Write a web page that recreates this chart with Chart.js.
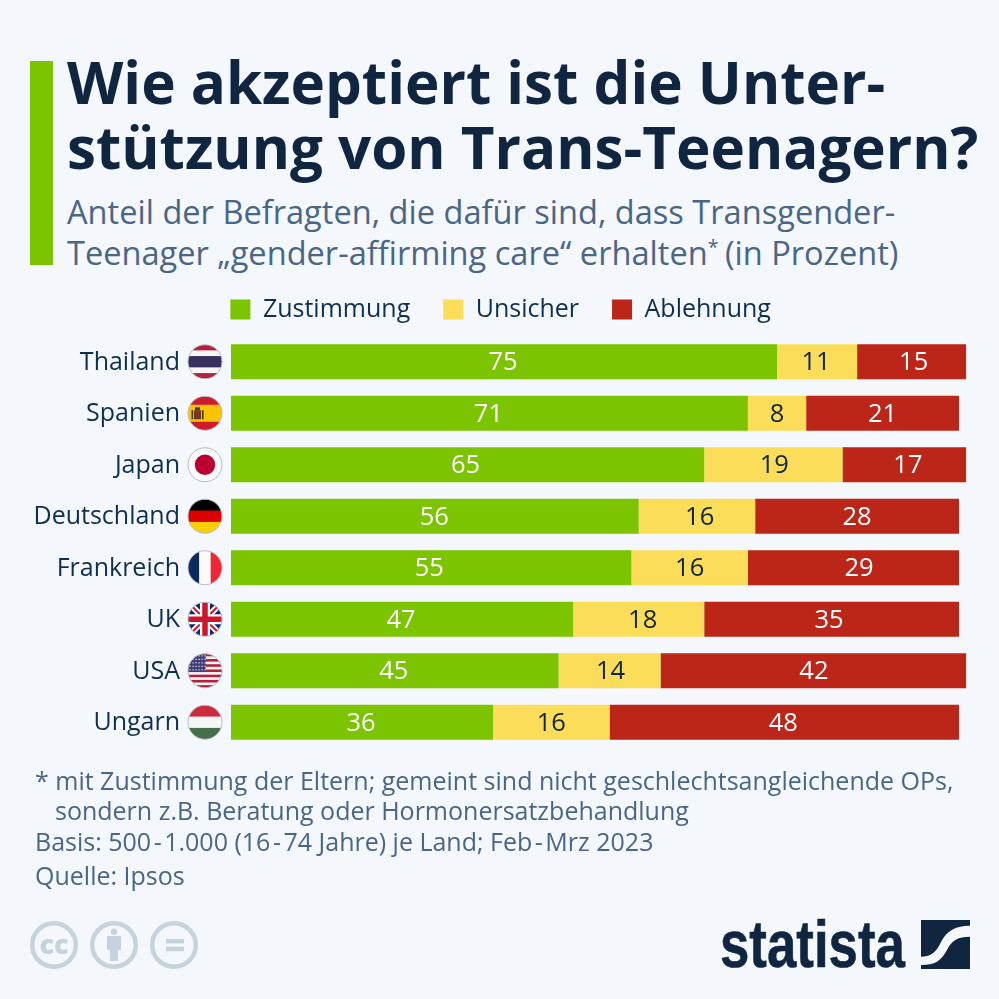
<!DOCTYPE html>
<html lang="de"><head><meta charset="utf-8">
<script src="https://cdn.jsdelivr.net/npm/chart.js@4/dist/chart.umd.min.js"></script>
<style>
html,body{margin:0;padding:0;background:#f4f7fb;width:999px;height:999px;overflow:hidden;font-family:"Open Sans",sans-serif}
canvas{position:absolute;left:0;top:0}
.t{position:absolute;white-space:nowrap;line-height:1}
.title{font-weight:700;font-size:58.3px;color:#0f2540;left:67px}
.sub{font-size:32.6px;color:#4a6686;left:67px}
.foot{font-size:25px;color:#4a6686}
.foot i{font-style:normal;margin:0 2.5px}
sup{font-size:.6em;line-height:0;vertical-align:.55em;margin-right:-2px}
#bar{position:absolute;left:30px;top:61px;width:23px;height:204px;background:#7cc400}
svg{position:absolute}
</style></head><body>
<div id="bar"></div>
<div class="t title" style="top:53px">Wie akzeptiert ist die Unter-</div>
<div class="t title" style="top:118px">stützung von Trans-Teenagern?</div>
<div class="t sub" style="top:196px">Anteil der Befragten, die dafür sind, dass Transgender-</div>
<div class="t sub" style="top:237px">Teenager „gender-affirming care“ erhalten<sup>*</sup> (in Prozent)</div>
<canvas id="c" width="999" height="999"></canvas>
<div class="t foot" style="left:35px;top:768px">* mit Zustimmung der Eltern; gemeint sind nicht geschlechtsangleichende OPs,</div>
<div class="t foot" style="left:55px;top:798px">sondern z.B. Beratung oder Hormonersatzbehandlung</div>
<div class="t foot" style="left:35px;top:829px">Basis: 500<i>-</i>1.000 (16<i>-</i>74 Jahre) je Land; Feb<i>-</i>Mrz 2023</div>
<div class="t foot" style="left:35px;top:863px">Quelle: Ipsos</div>
<svg style="left:0;top:900px" width="240" height="99" viewBox="0 900 240 99">
<g fill="none" stroke="#c6d3dc" stroke-width="4.5"><circle cx="54" cy="945" r="21.8"/><circle cx="114" cy="945" r="21.8"/><circle cx="174" cy="945" r="21.8"/></g>
<text x="54" y="954" text-anchor="middle" font-family="Open Sans" font-weight="800" font-size="27" fill="#c6d3dc">cc</text>
<g fill="#c6d3dc"><circle cx="114" cy="931.7" r="3.2"/><rect x="107" y="936" width="14" height="14"/><rect x="110" y="936" width="8" height="25"/><rect x="166" y="939" width="18" height="4.5"/><rect x="166" y="946.7" width="18" height="4.5"/></g>
</svg>
<div class="t" style="left:720px;top:911px;font-family:'Liberation Sans';font-weight:700;font-size:66px;color:#0f2540;transform-origin:0 0;transform:scaleX(.8);-webkit-text-stroke:.6px #0f2540">statista</div>
<svg style="left:920.7px;top:920px" width="49" height="49" viewBox="0 0 49 49"><rect width="49" height="49" fill="#0f2540"/><path d="M49 5.7 C36 5.5 26 10 20 22 C15 33 9 36.7 0 36.7 L0 45 C14 45 20 41 26 30 C31 20 37 16.7 49 16.7 Z" fill="#f4f7fb"/></svg>
<script>
const categories=["Thailand","Spanien","Japan","Deutschland","Frankreich","UK","USA","Ungarn"];
const seriesNames=["Zustimmung","Unsicher","Ablehnung"];
const zustimmung=[75,71,65,56,55,47,45,36];
const unsicher=[11,8,19,16,16,18,14,16];
const ablehnung=[15,21,17,28,29,35,42,48];
const seriesColors=["#7cc400","#fbdd5a","#bb2618"];
const labelColors=["#ffffff","#0f2540","#ffffff"];
const ink="#0f2f50";
// the reference's value labels sit slightly off the exact segment centres
const labelShift=[[-1,-1,-2,-.5,-2,-1,-1,-1],[-1,0,1,2.7,0,4,1,0],[2,0,3.5,0,5.5,-2.5,.5,-1]];

function circleFlag(ctx,cx,cy,r,paint){
  ctx.save();ctx.beginPath();ctx.arc(cx,cy,r,0,Math.PI*2);ctx.clip();
  paint(ctx,cx-r,cy-r,2*r);ctx.restore();
  ctx.beginPath();ctx.arc(cx,cy,r,0,Math.PI*2);ctx.strokeStyle="#b5bcc4";ctx.lineWidth=1;ctx.stroke();
}
function hBands(ctx,x,y,s,bands){let tot=bands.reduce((a,b)=>a+b[1],0),yy=y;bands.forEach(b=>{const h=s*b[1]/tot;ctx.fillStyle=b[0];ctx.fillRect(x,yy,s,h+0.5);yy+=h;});}
const flags={
 Thailand:(c,x,y,s)=>hBands(c,x,y,s,[["#b5203c",1],["#f6f6f6",1],["#37305e",2],["#f6f6f6",1],["#b5203c",1]]),
 Spanien:(c,x,y,s)=>{hBands(c,x,y,s,[["#cf1b2b",1],["#f8c300",2],["#cf1b2b",1]]);
   c.fillStyle="#6e3a1c";c.fillRect(x+6,y+14,7,9);c.fillStyle="#a5261c";c.fillRect(x+7,y+15,3,4);c.fillStyle="#4a3a18";c.fillRect(x+7,y+11,5,3);c.fillRect(x+3.5,y+14,1.6,9);c.fillRect(x+14,y+14,1.6,9);},
 Japan:(c,x,y,s)=>{c.fillStyle="#fbfbfb";c.fillRect(x,y,s,s);c.fillStyle="#bc0032";c.beginPath();c.arc(x+s/2,y+s/2,s*0.3,0,7);c.fill();},
 Deutschland:(c,x,y,s)=>hBands(c,x,y,s,[["#000",1],["#dd0000",1],["#ffce00",1]]),
 Frankreich:(c,x,y,s)=>{c.fillStyle="#0b2a5e";c.fillRect(x,y,s/3,s);c.fillStyle="#fbfbfb";c.fillRect(x+s/3,y,s/3,s);c.fillStyle="#ee2737";c.fillRect(x+2*s/3,y,s/3+1,s);},
 UK:(c,x,y,s)=>{c.fillStyle="#12286b";c.fillRect(x,y,s,s);const m=s/2;
   const line=(x1,y1,x2,y2,w,col)=>{c.strokeStyle=col;c.lineWidth=w;c.beginPath();c.moveTo(x1,y1);c.lineTo(x2,y2);c.stroke();};
   line(x,y,x+s,y+s,6,"#fff");line(x+s,y,x,y+s,6,"#fff");line(x,y,x+s,y+s,2,"#cf142b");line(x+s,y,x,y+s,2,"#cf142b");
   line(x+m,y,x+m,y+s,10,"#fff");line(x,y+m,x+s,y+m,10,"#fff");line(x+m,y,x+m,y+s,5.5,"#cf142b");line(x,y+m,x+s,y+m,5.5,"#cf142b");},
 USA:(c,x,y,s)=>{for(let i=0;i<13;i++){c.fillStyle=i%2?"#f6f6f6":"#b5203c";c.fillRect(x,y+i*s/13,s,s/13+0.5);}
   c.fillStyle="#3f3f78";c.fillRect(x,y,s*0.52,s*7/13);c.fillStyle="#e8e8f4";for(let i=0;i<5;i++)for(let j=0;j<6;j++){c.fillRect(x+1.5+j*3,y+1.5+i*3.5,1.2,1.2);}},
 Ungarn:(c,x,y,s)=>hBands(c,x,y,s,[["#cd2a3e",1],["#f6f6f6",1],["#436f4d",1]])
};
const LEGEND_HEIGHT=72;
const decorations={
 id:"decorations",
 beforeLayout(chart){
   const l=chart.legend;
   if(l&&!l.__w){const f=l.fit;l.fit=function(){f.call(this);this.height=LEGEND_HEIGHT;if(this._minSize)this._minSize.height=LEGEND_HEIGHT;};l.__w=true;}
 },
 afterDatasetsDraw(chart){
   const ctx=chart.ctx,y=chart.scales.y;
   categories.forEach((name,i)=>circleFlag(ctx,205,y.getPixelForTick(i),17,flags[name]));
   ctx.save();ctx.font="500 25.5px 'Open Sans'";ctx.textAlign="center";ctx.textBaseline="middle";
   chart.data.datasets.forEach((ds,di)=>{
     chart.getDatasetMeta(di).data.forEach((bar,i)=>{
       const p=bar.getProps(["x","base","y"],true);
       ctx.fillStyle=labelColors[di];
       ctx.fillText(ds.data[i],(p.x+p.base)/2+labelShift[di][i],p.y+1);
     });
   });
   ctx.restore();
 }
};
new Chart(document.getElementById("c"),{
 type:"bar",
 data:{labels:categories,datasets:[zustimmung,unsicher,ablehnung].map((d,i)=>({label:seriesNames[i],data:d,backgroundColor:seriesColors[i],borderWidth:0,categoryPercentage:1,barPercentage:0.68}))},
 options:{
  indexAxis:"y",responsive:false,animation:false,devicePixelRatio:window.devicePixelRatio||1,
  layout:{padding:{top:264,right:32.7,bottom:251,left:35}},
  plugins:{
   tooltip:{enabled:false},
   legend:{display:true,position:"top",align:"center",labels:{boxWidth:20,boxHeight:20,padding:33,color:ink,font:{family:"Open Sans",size:25}}}
  },
  scales:{
   x:{stacked:true,min:0,max:101,display:false},
   y:{stacked:true,grid:{display:false,drawTicks:false},border:{display:false},
      ticks:{padding:51,labelOffset:1,color:ink,font:{family:"Open Sans",size:25},autoSkip:false},
      afterFit(s){s.width=196;}}
  }
 },
 plugins:[decorations]
});
</script>
</body></html>
